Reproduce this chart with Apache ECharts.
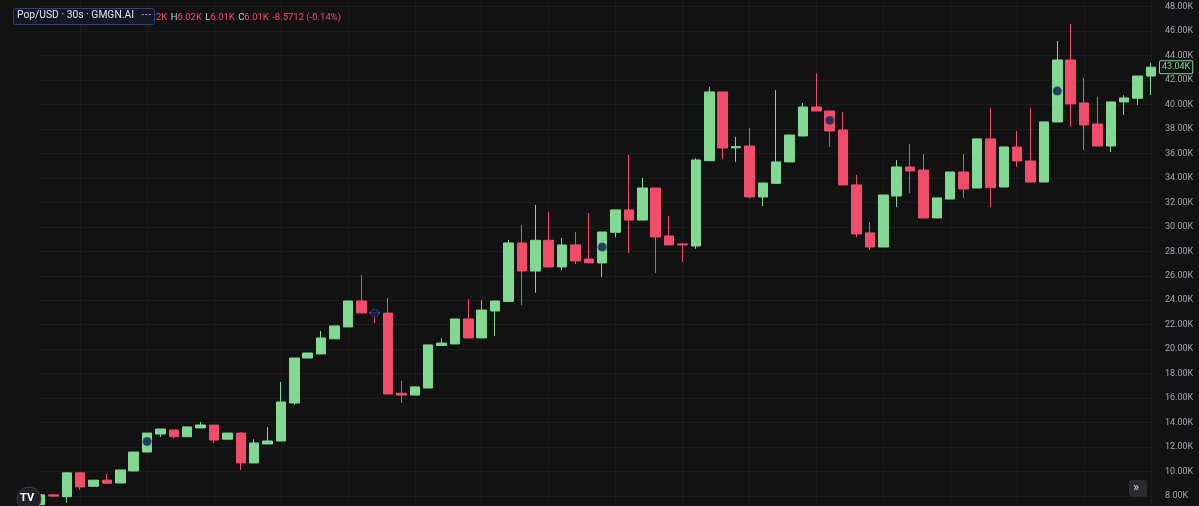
<!DOCTYPE html>
<html>
<head>
<meta charset="utf-8">
<script src="https://cdn.jsdelivr.net/npm/echarts@6/dist/echarts.min.js"></script>
<style>
  html, body { margin: 0; padding: 0; background: #121212; }
  #chart { width: 1199px; height: 506px; }
</style>
</head>
<body>
<div id="chart"></div>
<script>
// ---- data (values in thousands of USD) ----
const opens  = [7.3, 8.1, 7.95, 9.9, 8.8, 9.3, 9.07, 10.05, 11.6, 13.07, 13.4, 12.85, 13.57, 13.8, 12.65, 13.15, 10.71, 12.26, 12.5, 15.6,
                19.28, 19.61, 20.85, 21.82, 23.94, 23.0, 22.95, 16.4, 16.25, 16.83, 20.3, 20.43, 22.47, 20.92, 23.12, 23.9, 28.68, 26.39, 28.9, 26.72,
                28.52, 27.37, 27.05, 29.55, 31.38, 30.55, 33.17, 29.25, 28.6, 28.43, 35.4, 41.02, 36.45, 36.6, 32.44, 33.55, 35.3, 37.42, 39.79, 39.46,
                37.91, 33.42, 29.5, 28.35, 32.52, 34.89, 34.64, 30.72, 32.27, 34.48, 33.17, 37.18, 33.25, 36.52, 35.38, 33.66, 38.57, 43.63, 40.12, 38.4,
                36.6, 40.2, 40.5, 42.32];
const closes = [8.1, 8.0, 9.9, 8.75, 9.3, 9.05, 10.13, 11.6, 13.15, 13.48, 12.85, 13.65, 13.81, 12.58, 13.15, 10.71, 12.34, 12.5, 15.69, 19.28,
                19.69, 20.92, 21.9, 23.94, 22.96, 22.95, 16.34, 16.25, 16.92, 20.35, 20.5, 22.47, 20.92, 23.2, 23.94, 28.68, 26.39, 28.9, 26.72, 28.52,
                27.21, 27.05, 29.58, 31.38, 30.55, 33.17, 29.17, 28.52, 28.52, 35.46, 41.02, 36.44, 36.55, 32.44, 33.58, 35.3, 37.5, 39.79, 39.46, 37.83,
                33.42, 29.42, 28.35, 32.6, 34.89, 34.56, 30.72, 32.36, 34.48, 33.09, 37.18, 33.2, 36.52, 35.38, 33.66, 38.57, 43.63, 40.04, 38.32, 36.6,
                40.2, 40.53, 42.32, 43.04];
const lows   = [7.0, 7.95, 7.45, 8.5, 8.8, 9.05, 9.07, 10.05, 11.6, 12.83, 12.7, 12.85, 13.57, 12.34, 12.65, 10.13, 10.71, 12.26, 12.5, 15.45,
                19.28, 19.61, 20.85, 21.82, 22.96, 22.14, 16.34, 15.61, 16.25, 16.83, 20.3, 20.43, 20.92, 20.92, 21.08, 23.9, 23.61, 24.6, 26.72, 26.45,
                26.95, 27.05, 25.9, 29.15, 27.86, 30.55, 26.23, 28.52, 27.13, 28.2, 35.4, 35.54, 35.3, 32.3, 31.7, 33.55, 35.3, 37.42, 39.46, 36.52,
                33.42, 29.15, 28.1, 28.35, 31.62, 32.76, 30.72, 30.72, 32.27, 32.35, 33.17, 31.6, 33.25, 34.89, 33.6, 33.66, 38.57, 38.16, 36.28, 36.6,
                36.11, 39.14, 39.95, 40.77];
const highs  = [8.15, 8.15, 9.9, 9.9, 9.3, 9.8, 10.13, 11.6, 13.15, 13.48, 13.4, 13.65, 14.06, 13.8, 13.15, 13.2, 12.65, 13.65, 17.32, 19.28,
                19.69, 21.49, 21.9, 23.94, 26.07, 23.0, 24.19, 17.41, 16.98, 20.35, 20.9, 22.47, 24.1, 24.0, 23.94, 28.92, 30.15, 31.78, 31.21, 29.1,
                29.58, 31.13, 29.58, 31.38, 35.87, 34.0, 33.17, 30.89, 28.7, 35.6, 41.42, 41.02, 37.34, 38.07, 33.58, 41.18, 37.5, 40.12, 42.57, 39.46,
                39.38, 34.24, 30.4, 32.6, 35.46, 36.77, 35.95, 32.36, 34.48, 35.95, 37.18, 39.71, 36.52, 37.83, 39.71, 38.57, 45.18, 46.57, 42.16, 40.61,
                40.2, 40.75, 42.32, 43.4];
const categories = opens.map((_, i) => {
  const t = i * 30; const m = Math.floor(t / 60); const s = t % 60;
  return '10:' + String(m).padStart(2, '0') + ':' + String(s).padStart(2, '0');
});
const yTicks = [8, 10, 12, 14, 16, 18, 20, 22, 24, 26, 28, 30, 32, 34, 36, 38, 40, 42, 44, 46, 48];
const yMin = 7.19, yMax = 48.53;
const markerIndex = [8, 25, 42, 59, 76];
const markerValue = [12.45, 22.95, 28.35, 38.7, 41.1];
const lastPrice = closes[closes.length - 1];
const titleText = 'Pop/USD · 30s · GMGN.AI';

const UP = '#80d892';
const DOWN = '#f04d6b';

const chart = echarts.init(document.getElementById('chart'), null, { renderer: 'canvas' });
chart.setOption({
  backgroundColor: '#121212',
  animation: false,
  grid: { left: 40, right: 48, top: 0, bottom: 0 },
  xAxis: {
    type: 'category',
    data: categories,
    boundaryGap: false,
    axisLine: { show: false },
    axisTick: { show: false },
    axisLabel: { show: false },
    splitLine: {
      show: true,
      interval: (idx) => idx % 5 === 3,
      lineStyle: { color: '#1c1c1e', width: 1 }
    }
  },
  yAxis: {
    type: 'value',
    position: 'right',
    min: yMin, max: yMax,
    axisLine: { show: false },
    axisTick: { show: false, customValues: yTicks },
    axisLabel: {
      customValues: yTicks,
      color: '#a3a6ae', fontSize: 9, fontFamily: 'Roboto', margin: 14, align: 'left',
      formatter: (v) => v.toFixed(2) + 'K'
    },
    splitLine: { show: true, lineStyle: { color: '#1c1c1e', width: 1 } }
  },
  series: [
    {
      type: 'candlestick',
      clip: false,
      z: 3,
      barWidth: 10,
      data: opens.map((o, i) => [o, closes[i], lows[i], highs[i]]),
      itemStyle: { color: UP, color0: DOWN, borderColor: UP, borderColor0: DOWN, borderWidth: 1 },
      markLine: {
        silent: true,
        z: 6,
        symbol: ['none', 'none'],
        lineStyle: { color: 'rgba(0,0,0,0)', width: 1, type: 'solid' },
        data: [{ yAxis: lastPrice }],
        label: {
          show: true, position: 'end', distance: 9,
          formatter: () => lastPrice.toFixed(2) + 'K',
          color: UP, fontSize: 9, fontFamily: 'Roboto',
          backgroundColor: '#121212', borderColor: UP, borderWidth: 1,
          padding: [2, 2, 1, 2], borderRadius: 1
        }
      }
    },
    {
      type: 'scatter',
      z: 5,
      symbol: 'circle',
      symbolSize: 8,
      data: markerIndex.map((idx, k) => [idx, markerValue[k]]),
      itemStyle: { color: '#0e1a3c', borderColor: '#243f86', borderWidth: 1.2 }
    }
  ],
  graphic: [
    {
      type: 'text', left: 156, top: 11.5, z: 10,
      style: {
        text: '{v|2K} {l|H}{v|6.02K} {l|L}{v|6.01K} {l|C}{v|6.01K} {v|-8.5712 (-0.14%)}',
        rich: {
          v: { fill: DOWN, fontSize: 9.5, fontFamily: 'Roboto' },
          l: { fill: '#c8cad0', fontSize: 9.5, fontFamily: 'Roboto' }
        }
      }
    },
    {
      type: 'rect', z: 11,
      shape: { x: 13.5, y: 8.5, width: 141, height: 16, r: 2 },
      style: { fill: '#141722', stroke: '#2c3d8c', lineWidth: 1 }
    },
    {
      type: 'text', z: 12, left: 17, top: 10.5,
      style: { text: titleText, fill: '#e2e4ea', fontSize: 10.3, fontFamily: 'Roboto' }
    },
    {
      type: 'text', z: 12, left: 141, top: 10,
      style: { text: '---', fill: '#8a8e98', fontSize: 9, fontFamily: 'Roboto', fontWeight: 'bold' }
    },
    {
      type: 'circle', z: 12,
      shape: { cx: 29, cy: 499, r: 12 },
      style: { fill: '#202125', stroke: '#3b3d44', lineWidth: 1 }
    },
    {
      type: 'text', z: 13, left: 20, top: 493,
      style: { text: 'TV', fill: '#ffffff', fontSize: 11, fontWeight: 'bold', fontFamily: 'Roboto' }
    },
    {
      type: 'rect', z: 12,
      shape: { x: 1129, y: 480, width: 18, height: 17, r: 3 },
      style: { fill: '#2a2b30' }
    },
    {
      type: 'text', z: 13, left: 1133, top: 481,
      style: { text: '»', fill: '#d8dae0', fontSize: 13, fontFamily: 'Roboto' }
    }
  ]
});
</script>
</body>
</html>
